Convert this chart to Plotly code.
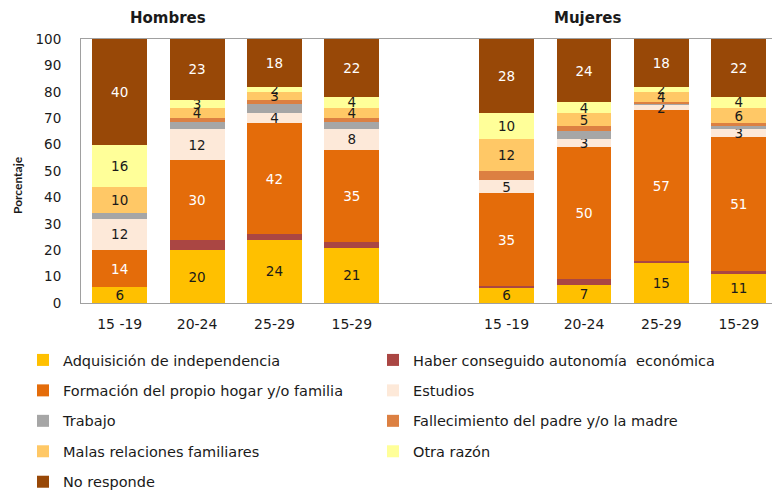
import plotly.graph_objects as go

# Age groups, men first and women second, with one empty slot between them
age_groups = ["15 -19", "20-24", "25-29", "15-29", "15 -19", "20-24", "25-29", "15-29"]
x_pos = [0, 1, 2, 3, 5, 6, 7, 8]

# Percentages for each reason (Hombres 15-19 ... 15-29, then Mujeres 15-19 ... 15-29)
adquisicion = [6, 20, 24, 21, 6, 7, 15, 11]
haber_autonomia = [0, 4, 2, 2, 0.5, 2, 1, 1]
formacion_hogar = [14, 30, 42, 35, 35, 50, 57, 51]
estudios = [12, 12, 4, 8, 5, 3, 2, 3]
trabajo = [2, 2.5, 3.5, 2.5, 0, 3, 0.5, 1]
fallecimiento = [0, 1.5, 1.5, 1.5, 3.5, 2, 0.5, 1]
malas_relaciones = [10, 4, 3, 4, 12, 5, 4, 6]
otra_razon = [16, 3, 2, 4, 10, 4, 2, 4]
no_responde = [40, 23, 18, 22, 28, 24, 18, 22]

FONT = "DejaVu Sans"

# name, values, colour, show value labels, label colour, legend column
series = [
    ("Adquisición de independencia", adquisicion, "#FFC000", True, "#1a1a1a", "legend"),
    ("Haber conseguido autonomía  económica", haber_autonomia, "#AA4643", False, None, "legend2"),
    ("Formación del propio hogar y/o familia", formacion_hogar, "#E46C0A", True, "#FFFFFF", "legend"),
    ("Estudios", estudios, "#FDE9D9", True, "#1a1a1a", "legend2"),
    ("Trabajo", trabajo, "#A6A6A6", False, None, "legend"),
    ("Fallecimiento del padre y/o la madre", fallecimiento, "#DC8042", False, None, "legend2"),
    ("Malas relaciones familiares", malas_relaciones, "#FFC866", True, "#1a1a1a", "legend"),
    ("Otra razón", otra_razon, "#FFFF99", True, "#1a1a1a", "legend2"),
    ("No responde", no_responde, "#984807", True, "#FFFFFF", "legend"),
]

fig = go.Figure()
for i, (name, vals, color, labelled, tcolor, leg) in enumerate(series):
    kw = {}
    if labelled:
        kw = dict(
            text=[f"{v:g}" for v in vals],
            textposition="inside",
            insidetextanchor="middle",
            textangle=0,
            textfont=dict(family=FONT, size=13.5, color=tcolor),
        )
    fig.add_trace(go.Bar(
        x=x_pos, y=vals, name=name,
        marker=dict(color=color, line=dict(width=0)),
        legend=leg, legendgroup=f"g{i}",
        hoverinfo="skip",
        **kw,
    ))

W, H = 772, 491
PLOT_L, PLOT_T, PLOT_B = 81, 39, 303

fig.update_layout(
    width=W, height=H,
    barmode="stack",
    bargap=0.29,
    plot_bgcolor="white",
    paper_bgcolor="white",
    margin=dict(l=PLOT_L, r=0, t=PLOT_T, b=H - PLOT_B, autoexpand=False),
    font=dict(family=FONT, color="#1a1a1a"),
    uniformtext=dict(minsize=13.5, mode="show"),
    xaxis=dict(
        range=[-0.5, 8.43],
        tickvals=x_pos, ticktext=age_groups,
        tickfont=dict(family=FONT, size=14, color="#1a1a1a"),
        showgrid=False, zeroline=False,
        showline=True, linecolor="#A0A0A0", linewidth=1, mirror=True,
        ticks="", ticklabelstandoff=8,
    ),
    yaxis=dict(
        range=[0, 100], dtick=10,
        tickfont=dict(family=FONT, size=13.5, color="#1a1a1a"),
        showgrid=False, zeroline=False,
        showline=True, linecolor="#A0A0A0", linewidth=1, mirror=True,
        ticks="", ticklabelstandoff=16,
    ),
    legend=dict(
        xref="container", yref="container",
        x=23 / W, y=1 - 344 / H, xanchor="left", yanchor="top",
        orientation="v", tracegroupgap=8.6,
        font=dict(family=FONT, size=14.5, color="#1a1a1a"),
        bgcolor="rgba(0,0,0,0)",
    ),
    legend2=dict(
        xref="container", yref="container",
        x=373 / W, y=1 - 344 / H, xanchor="left", yanchor="top",
        orientation="v", tracegroupgap=8.6,
        font=dict(family=FONT, size=14.5, color="#1a1a1a"),
        bgcolor="rgba(0,0,0,0)",
    ),
    annotations=[
        dict(text="<b>Hombres</b>", xref="paper", yref="paper",
             x=(168 - PLOT_L) / (W - PLOT_L), y=1, xanchor="center", yanchor="middle",
             yshift=PLOT_T - 18, showarrow=False,
             font=dict(family=FONT, size=15, color="#1a1a1a")),
        dict(text="<b>Mujeres</b>", xref="paper", yref="paper",
             x=(587 - PLOT_L) / (W - PLOT_L), y=1, xanchor="center", yanchor="middle",
             yshift=PLOT_T - 18, showarrow=False,
             font=dict(family=FONT, size=15, color="#1a1a1a")),
        dict(text="<b>Porcentaje</b>", xref="paper", yref="paper",
             x=0, xshift=17 - PLOT_L, y=1 - (185 - PLOT_T) / (PLOT_B - PLOT_T),
             xanchor="center", yanchor="middle", textangle=-90, showarrow=False,
             font=dict(family="Lato", size=12, color="#1a1a1a")),
    ],
)

fig.write_html("out.html")
